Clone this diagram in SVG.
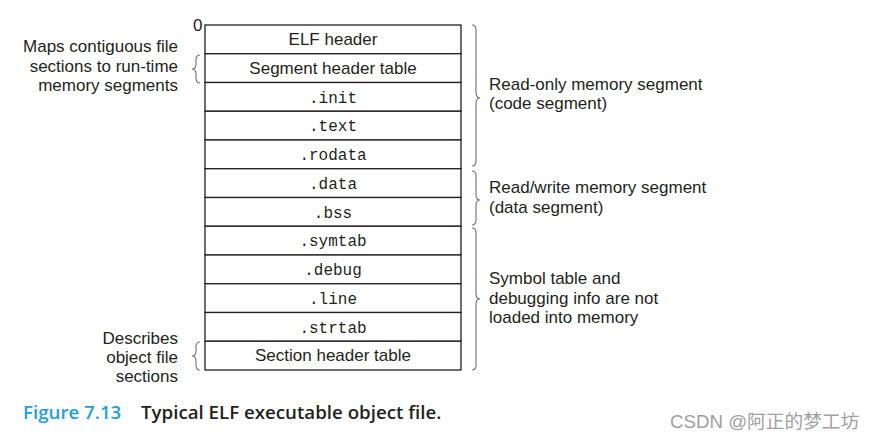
<svg xmlns="http://www.w3.org/2000/svg" width="877" height="441" viewBox="0 0 877 441">
<style>
.cell{fill:#fff;stroke:#231f20;stroke-width:1.3}
.sans{font-family:"Liberation Sans",Arial,sans-serif;font-size:17px;fill:#231f20}
.mono{font-family:"Liberation Mono","DejaVu Sans Mono",monospace;font-size:16px;fill:#231f20}
.brace{fill:none;stroke:#6d6e71;stroke-width:1.1}
.cap{font-family:"Open Sans","Liberation Sans",sans-serif;font-size:18.7px;font-weight:600}
</style>
<rect width="877" height="441" fill="#fff"/>
<text class="sans" x="193" y="31">0</text>
<g id="rows">
<g id="n1"><rect class="cell" x="205" y="25" width="256" height="28.75"/><text class="sans" x="333" y="45" text-anchor="middle">ELF header</text></g>
<g id="n2"><rect class="cell" x="205" y="53.75" width="256" height="28.75"/><text class="sans" x="333" y="74" text-anchor="middle">Segment header table</text></g>
<g id="n3"><rect class="cell" x="205" y="82.5" width="256" height="28.75"/><text class="mono" x="333" y="103" text-anchor="middle">.init</text></g>
<g id="n4"><rect class="cell" x="205" y="111.25" width="256" height="28.75"/><text class="mono" x="333" y="131" text-anchor="middle">.text</text></g>
<g id="n5"><rect class="cell" x="205" y="140" width="256" height="28.75"/><text class="mono" x="333" y="160" text-anchor="middle">.rodata</text></g>
<g id="n6"><rect class="cell" x="205" y="168.75" width="256" height="28.75"/><text class="mono" x="333" y="189" text-anchor="middle">.data</text></g>
<g id="n7"><rect class="cell" x="205" y="197.5" width="256" height="28.75"/><text class="mono" x="333" y="218" text-anchor="middle">.bss</text></g>
<g id="n8"><rect class="cell" x="205" y="226.25" width="256" height="28.75"/><text class="mono" x="333" y="246" text-anchor="middle">.symtab</text></g>
<g id="n9"><rect class="cell" x="205" y="255" width="256" height="28.75"/><text class="mono" x="333" y="275" text-anchor="middle">.debug</text></g>
<g id="n10"><rect class="cell" x="205" y="283.75" width="256" height="28.75"/><text class="mono" x="333" y="304" text-anchor="middle">.line</text></g>
<g id="n11"><rect class="cell" x="205" y="312.5" width="256" height="28.75"/><text class="mono" x="333" y="333" text-anchor="middle">.strtab</text></g>
<g id="n12"><rect class="cell" x="205" y="341.25" width="256" height="28.75"/><text class="sans" x="333" y="361" text-anchor="middle">Section header table</text></g>
</g>
<g id="braces">
<path class="brace" d="M472,25 Q476,25 476,30 L476,92 Q476,98 480,98 Q476,98 476,104 L476,161 Q476,166 472,166"/>
<path class="brace" d="M472,171 Q476,171 476,176 L476,195 Q476,200 480,200 Q476,200 476,205 L476,220 Q476,225 472,225"/>
<path class="brace" d="M472,228 Q476,228 476,233 L476,294 Q476,299 480,299 Q476,299 476,304 L476,365 Q476,370 472,370"/>
<path class="brace" d="M200,55 Q196,55 196,60 L196,64 Q196,69 192,69 Q196,69 196,74 L196,78 Q196,83 200,83"/>
<path class="brace" d="M200,342 Q196,342 196,347 L196,351 Q196,356 192,356 Q196,356 196,361 L196,365 Q196,370 200,370"/>
</g>
<g id="labels" class="sans">
<text x="178" y="52" text-anchor="end">Maps contiguous file</text>
<text x="178" y="72" text-anchor="end">sections to run-time</text>
<text x="178" y="91" text-anchor="end">memory segments</text>
<text x="178" y="344" text-anchor="end">Describes</text>
<text x="178" y="363" text-anchor="end">object file</text>
<text x="178" y="382" text-anchor="end">sections</text>
<text x="489" y="90">Read-only memory segment</text>
<text x="489" y="109">(code segment)</text>
<text x="489" y="193">Read/write memory segment</text>
<text x="489" y="213">(data segment)</text>
<text x="489" y="284">Symbol table and</text>
<text x="489" y="304">debugging info are not</text>
<text x="489" y="323">loaded into memory</text>
</g>
<text class="cap" x="23" y="419" fill="#1ea0dc" font-size="19.5" font-weight="400">Figure 7.13</text>
<text class="cap" x="141" y="419" fill="#231f20">Typical ELF executable object file.</text>
<text x="670" y="428" font-family="'Liberation Sans','Noto Sans CJK SC',sans-serif" font-size="18.7" fill="#a0a0a0">CSDN @阿正的梦工坊</text>
</svg>
